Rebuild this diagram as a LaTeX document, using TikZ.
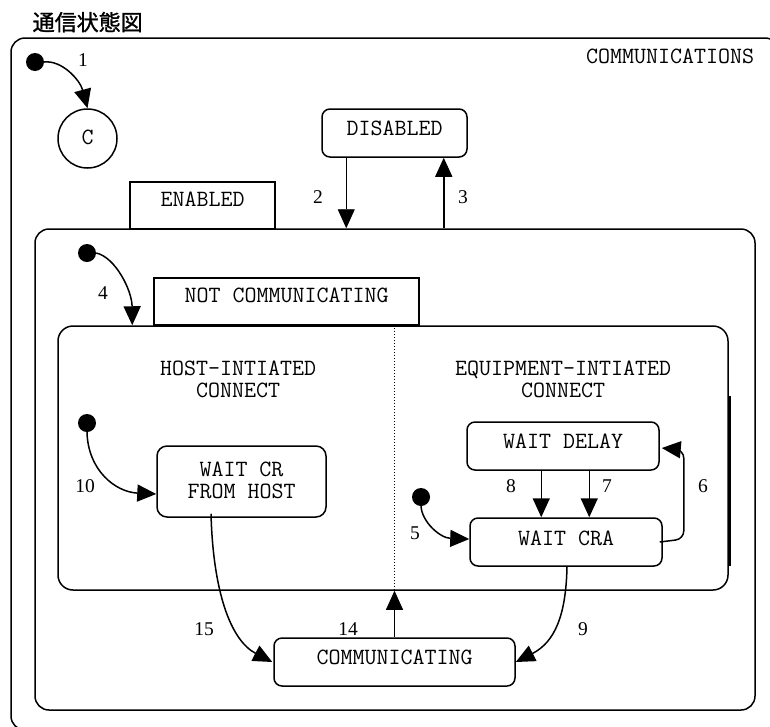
\documentclass[tikz,border=0pt]{standalone}
\usepackage{fontspec}
\setmainfont{Liberation Serif}
\newfontfamily\cjkf[FakeBold=1.2]{Noto Sans CJK JP}
\usetikzlibrary{arrows.meta,calc}
\begin{document}
\begin{tikzpicture}[x=1pt,y=-1pt,
  monofont/.style={font=\ttfamily\fontsize{23.3}{22}\selectfont},
  box/.style={draw, line width=1.5pt, rounded corners=8pt, inner sep=0pt, monofont, text depth=9pt},
  tab/.style={draw, line width=1.5pt, inner sep=0pt, monofont, text depth=13pt},
  region/.style={draw, line width=1.5pt, inner sep=0pt},
  mono/.style={inner sep=0pt, monofont},
  num/.style={inner sep=0pt, anchor=base, font=\fontsize{19.5}{22}\selectfont},
  initdot/.style={circle, fill=black, minimum size=18pt, inner sep=0pt},
  arr/.style={line width=1.5pt, -{Triangle[length=19pt,width=17pt]}},
  thinarr/.style={line width=0.8pt, -{Triangle[length=19pt,width=17pt]}},
]
\useasboundingbox (0,0) rectangle (770,726);
\fill[white] (0,0) rectangle (770,726);

% title
\node[inner sep=0pt, anchor=base, font=\cjkf\fontsize{22}{26}\selectfont] (title) at (87.7,30.5) {通信状態図};

% outer COMMUNICATIONS region
\begin{scope}
\clip (0,0) rectangle (770,726);
\node[region, rounded corners=14pt, minimum width=768pt, minimum height=692pt] (comm) at (395,384) {};
\end{scope}
\node[mono, anchor=base] (commlbl) at (670,63) {COMMUNICATIONS};

% initial state -> C
\node[initdot] (d1) at (35,62) {};
\node[circle, draw, line width=1.5pt, minimum size=59pt, inner sep=0pt, monofont, text depth=3pt] (c) at (87.5,138.5) {C};
\draw[arr] (d1.east) .. controls (62,60) and (80,80) .. (c.north);
\node[num] (n1) at (83,66) {1};

% DISABLED / ENABLED
\node[box, minimum width=145pt, minimum height=48pt] (dis) at (394.5,133) {DISABLED};
\node[region, rounded corners=14pt, minimum width=720pt, minimum height=481pt] (en) at (395,469.5) {};
\node[tab, minimum width=145pt, minimum height=47pt] (entab) at (202.5,205.5) {ENABLED};
\coordinate (p2) at ($(dis.south west)+(25,0)$);
\coordinate (p3) at ($(dis.south east)+(-24,0)$);
\draw[thinarr] (p2) -- (p2 |- en.north);
\draw[arr] (p3 |- en.north) -- (p3);
\node[num] (n2) at (318,203) {2};
\node[num] (n3) at (463,203) {3};

% NOT COMMUNICATING
\node[initdot] (d4) at (87,253) {};
\node[region, rounded corners=15pt, minimum width=670pt, minimum height=264pt] (nc) at (393,458) {};
\node[tab, minimum width=265pt, minimum height=47pt] (nctab) at (286.5,301.5) {NOT COMMUNICATING};
\coordinate (p4) at ($(nc.north west)+(75,0)$);
\draw[arr] (d4.east) .. controls (115,257) and (132,290) .. (p4);
\node[num] (n4) at (103,299) {4};
\coordinate (r1) at ($(nc.north east)+(1,71)$);
\coordinate (r2) at ($(nc.north east)+(1,241)$);
\draw[line width=2.2pt] (r1) -- (r2);
\coordinate (v1) at ($(nc.north west)+(337,0)$);
\draw[dotted, line width=1pt] (v1) -- (v1 |- nc.south);

% host-initiated
\node[mono, align=center, text depth=0pt] (host) at (238,379) {HOST-INTIATED\\CONNECT};
\node[initdot] (d10) at (87,423) {};
\node[box, rounded corners=10pt, align=center, text depth=3pt, minimum width=169pt, minimum height=71pt] (wcr) at (241.5,481.5) {WAIT CR\\FROM HOST};
\coordinate (p10) at ($(wcr.west)+(0,12.5)$);
\draw[arr] (d10.south) .. controls (88,470) and (115,492) .. (p10);
\node[num] (n10) at (85,492) {10};

% equipment-initiated
\node[mono, align=center, text depth=0pt] (equip) at (563,379) {EQUIPMENT-INTIATED\\CONNECT};
\node[box, minimum width=192pt, minimum height=48pt] (wd) at (563,446) {WAIT DELAY};
\node[box, text depth=7pt, minimum width=192pt, minimum height=48pt] (wcra) at (566,542) {WAIT CRA};
\coordinate (p8) at ($(wd.south west)+(75,0)$);
\coordinate (p7) at ($(wd.south west)+(123,0)$);
\draw[arr] (p8) -- (p8 |- wcra.north);
\draw[arr] (p7) -- (p7 |- wcra.north);
\node[num] (n8) at (511,492) {8};
\node[num] (n7) at (607,492) {7};
\coordinate (q1) at ($(wcra.east)+(-3,0)$);
\coordinate (q2) at ($(wcra.east)+(21,-3)$);
\coordinate (q3) at ($(wd.east)+(24,4)$);
\coordinate (q4) at ($(wd.east)+(2,2)$);
\draw[arr, rounded corners=8pt] (q1) -- (q2) -- (q3) -- (q4);
\node[num] (n6) at (703,492) {6};
\node[initdot] (d5) at (421,497) {};
\coordinate (p5) at ($(wcra.west)+(0,-3)$);
\draw[arr] (d5.south) .. controls (422,522) and (440,538) .. (p5);
\node[num] (n5) at (415,539) {5};

% COMMUNICATING
\node[box, minimum width=241pt, minimum height=48pt] (cm) at (394.5,662) {COMMUNICATING};
\coordinate (p9) at ($(wcra.south)+(1,0)$);
\coordinate (p15) at ($(wcr.south)+(-30.5,-4)$);
\coordinate (e15) at ($(cm.west)+(-1,0)$);
\draw[arr] (p9) .. controls (566,615) and (555,642) .. (cm.east);
\draw[arr] (p15) .. controls (213,590) and (230,640) .. (e15);
\draw[thinarr] (cm.north) -- (cm.north |- nc.south);
\node[num] (n15) at (204,635) {15};
\node[num] (n14) at (348,635) {14};
\node[num] (n9) at (583,635) {9};
\end{tikzpicture}
\end{document}
